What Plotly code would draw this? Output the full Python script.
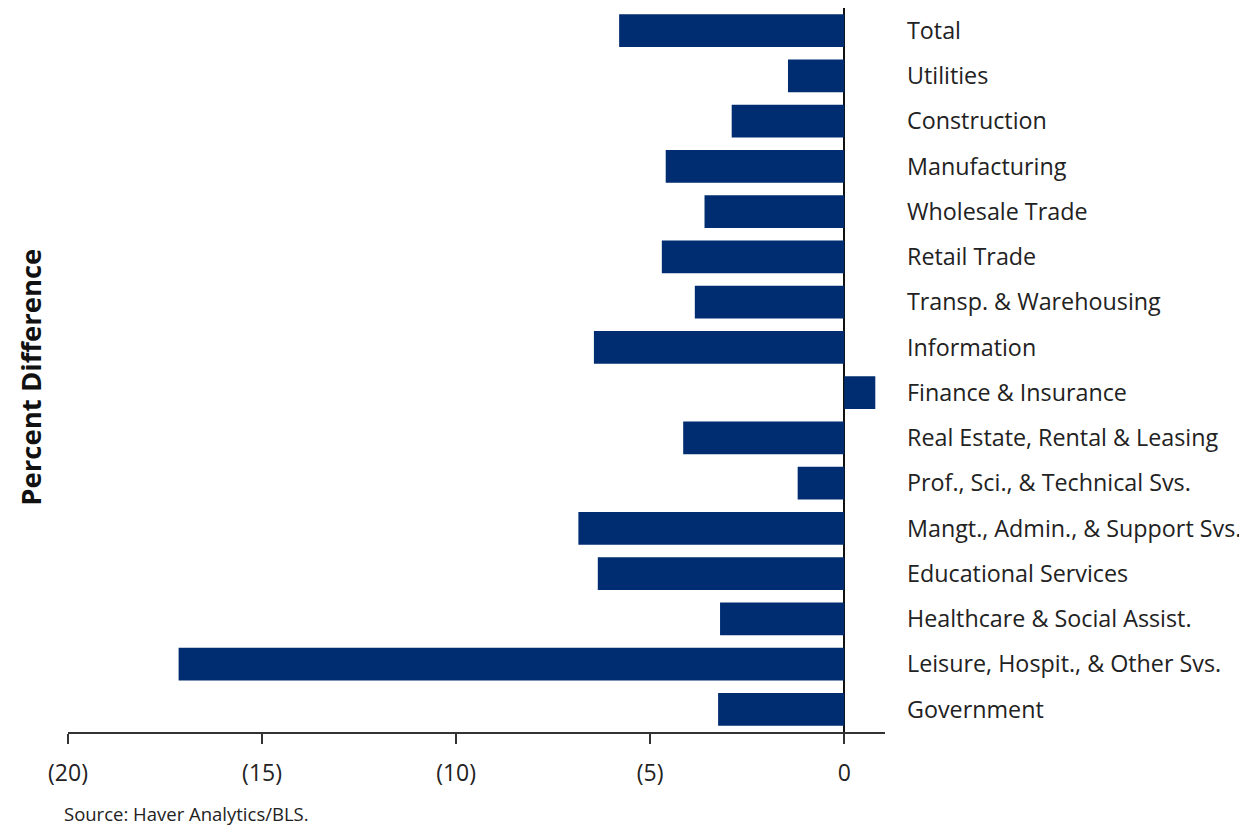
import plotly.graph_objects as go

categories = [
    "Total", "Utilities", "Construction", "Manufacturing", "Wholesale Trade",
    "Retail Trade", "Transp. & Warehousing", "Information", "Finance & Insurance",
    "Real Estate, Rental & Leasing", "Prof., Sci., & Technical Svs.",
    "Mangt., Admin., & Support Svs.", "Educational Services",
    "Healthcare & Social Assist.", "Leisure, Hospit., & Other Svs.", "Government",
]
values = [-5.8, -1.45, -2.9, -4.6, -3.6, -4.7, -3.85, -6.45, 0.8, -4.15, -1.2,
          -6.85, -6.35, -3.2, -17.15, -3.25]
tick_vals = [-20, -15, -10, -5, 0]
tick_text = ["(20)", "(15)", "(10)", "(5)", "0"]

FONT = "Open Sans, Noto Sans, sans-serif"
TXT = "#222222"

fig = go.Figure(go.Bar(
    y=categories, x=values, orientation="h",
    marker=dict(color="#002C71", line=dict(width=0)),
))

fig.update_layout(
    width=1239, height=817,
    margin=dict(l=60, r=362, t=0, b=93, pad=0),
    paper_bgcolor="white", plot_bgcolor="white",
    bargap=0.28, showlegend=False,
    font=dict(family=FONT, color=TXT),
)
fig.update_xaxes(
    range=[-20, 1.05], tickvals=tick_vals, ticktext=tick_text,
    showgrid=False, showline=True, linecolor="#333333", linewidth=1.5,
    ticks="outside", ticklen=10, tickwidth=1.5, tickcolor="#333333",
    zeroline=True, zerolinecolor="#111111", zerolinewidth=2,
    ticklabelstandoff=10,
    tickfont=dict(size=23, family=FONT, color=TXT),
)
fig.update_yaxes(
    categoryorder="array", categoryarray=categories, autorange="reversed",
    side="right", showgrid=False, showline=False, zeroline=False,
    ticks="", ticklabelstandoff=21,
    tickfont=dict(size=23.3, family=FONT, color=TXT),
)
fig.add_annotation(
    text="<b>Percent Difference</b>", xref="paper", yref="paper",
    x=-0.046, y=0.49, xanchor="center", yanchor="middle", textangle=-90,
    showarrow=False, borderpad=0,
    font=dict(size=27.5, family=FONT, color="#111111"),
)
fig.add_annotation(
    text="Source: Haver Analytics/BLS.", xref="paper", yref="paper",
    x=-0.0075, y=-0.112, xanchor="left", yanchor="middle",
    showarrow=False, font=dict(size=18.5, family=FONT, color=TXT),
)
fig.write_html("out.html")
